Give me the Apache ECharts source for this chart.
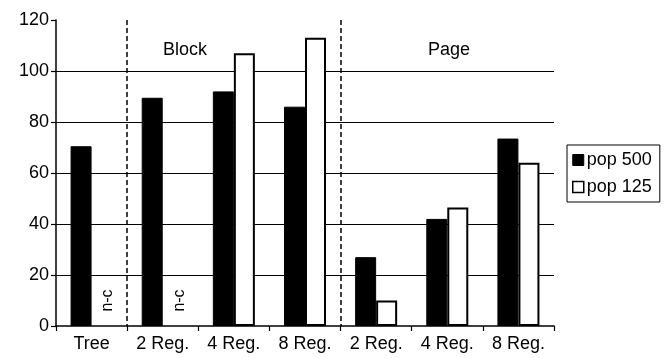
<!DOCTYPE html>
<html>
<head>
<meta charset="utf-8">
<script src="https://cdn.jsdelivr.net/npm/echarts@6/dist/echarts.min.js"></script>
<style>html,body{margin:0;padding:0;background:#fff}#c{width:665px;height:358px}</style>
</head>
<body>
<div id="c"></div>
<script>
const categories = ['Tree', '2 Reg.', '4 Reg.', '8 Reg.', '2 Reg.', '4 Reg.', '8 Reg.'];
const categoryKeys = ['Tree', 'B2', 'B4', 'B8', 'P2', 'P4', 'P8'];
const pop500 = [70.5, 89.5, 92, 86, 27, 42, 73.5];
const pop125 = [null, null, 107, 113, 10, 46.5, 64];
const yTicks = [0, 20, 40, 60, 80, 100, 120];
const notComputed = ['Tree', 'B2'];
const groupLabels = ['Block', 'Page'];

const FONT = '"Liberation Sans", Arial, sans-serif';
const chart = echarts.init(document.getElementById('c'), null, {renderer: 'canvas'});
chart.setOption({
  animation: false,
  backgroundColor: '#fff',
  textStyle: {fontFamily: FONT, color: '#000'},
  grid: {left: 56, right: 111, top: 20, bottom: 32, containLabel: false},
  legend: {
    orient: 'vertical',
    left: 567, top: 145,
    padding: [6, 8, 6, 5],
    borderColor: '#000', borderWidth: 1,
    itemWidth: 11, itemHeight: 11, itemGap: 9,
    icon: 'rect',
    textStyle: {fontFamily: FONT, fontSize: 18, color: '#000', padding: [0, 0, 0, -2]},
    data: [
      {name: 'pop 500', itemStyle: {color: '#000', borderColor: '#000', borderWidth: 1}},
      {name: 'pop 125', itemStyle: {color: '#fff', borderColor: '#000', borderWidth: 1.5}}
    ]
  },
  xAxis: {
    type: 'category',
    data: categoryKeys,
    boundaryGap: true,
    axisLine: {show: true, lineStyle: {color: '#000', width: 1.5}},
    axisTick: {show: true, length: 5, lineStyle: {color: '#000', width: 1.2}},
    axisLabel: {
      color: '#000', fontFamily: FONT, fontSize: 18, margin: 9,
      formatter: (v, i) => categories[i]
    },
    splitLine: {
      show: true,
      showMinLine: true, showMaxLine: false,
      interval: (i) => i === 1 || i === 4,
      lineStyle: {color: '#000', type: [5, 3], width: 1.5}
    }
  },
  yAxis: {
    type: 'value',
    min: yTicks[0], max: yTicks[yTicks.length - 1], interval: 20,
    axisLine: {show: true, lineStyle: {color: '#000', width: 1.5}},
    axisTick: {show: true, length: 5, lineStyle: {color: '#000', width: 1.2}},
    axisLabel: {color: '#000', fontFamily: FONT, fontSize: 18, margin: 7},
    splitLine: {show: true, showMinLine: false, showMaxLine: false, lineStyle: {color: '#000', width: 1.2}}
  },
  series: [
    {
      name: 'pop 500', type: 'bar', data: pop500,
      barWidth: 21, barGap: '0%',
      itemStyle: {color: '#000', borderColor: '#000', borderWidth: 1}
    },
    {
      name: 'pop 125', type: 'bar', data: pop125,
      barWidth: 21, barGap: '0%',
      itemStyle: {color: '#fff', borderColor: '#000', borderWidth: 2},
      markPoint: {
        symbol: 'circle',
        symbolSize: 1,
        silent: true,
        itemStyle: {color: 'rgba(0,0,0,0)'},
        label: {
          show: true, position: 'inside', formatter: 'n-c', rotate: 90,
          color: '#000', fontFamily: FONT, fontSize: 16,
          offset: [0, 6]
        },
        data: notComputed.map(k => ({coord: [k, 10], value: 'n-c'}))
      }
    }
  ],
  graphic: [
    {type: 'text', left: 163, top: 41, style: {text: groupLabels[0], font: '18px ' + FONT, fill: '#000'}},
    {type: 'text', left: 428, top: 41, style: {text: groupLabels[1], font: '18px ' + FONT, fill: '#000'}}
  ]
});
</script>
</body>
</html>
